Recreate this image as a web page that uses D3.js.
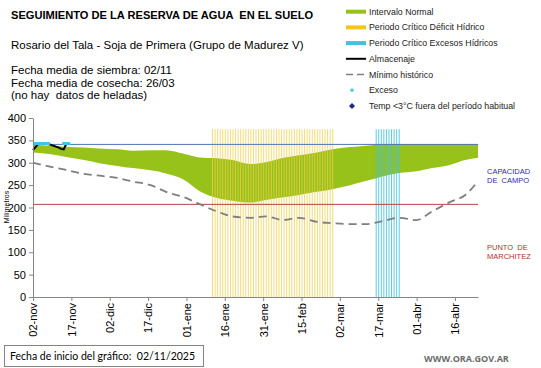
<!DOCTYPE html>
<html>
<head>
<meta charset="utf-8">
<script src="https://cdn.jsdelivr.net/npm/d3@7"></script>
<style>
  body { margin: 0; background: #fff; }
  svg { display: block; font-family: "Liberation Sans", Arial, sans-serif; }
</style>
</head>
<body>
<svg id="chart" width="541" height="368"></svg>
<script>
// fechas de la banda normal y del minimo historico
var fechas = ["2025-11-02","2025-11-09","2025-11-15","2025-11-22","2025-11-28","2025-12-05","2025-12-11",
  "2025-12-18","2025-12-24","2025-12-31","2026-01-06","2026-01-13","2026-01-19","2026-01-26","2026-02-01",
  "2026-02-08","2026-02-14","2026-02-21","2026-02-27","2026-03-06","2026-03-12","2026-03-19","2026-03-25",
  "2026-04-01","2026-04-07","2026-04-14","2026-04-20","2026-04-25"];
var bandaSup = [340,338,336,334,332,330,327,328,328,320,312,310,306,297,301,311,317,323,330,335,338,341,342,342,342,342,342,342];
var bandaInf = [323,319,313,306,299,293,288,283,276,262,237,221,215,211,217,223,228,235,241,250,259,270,277,281,288,295,306,311];
var minimoHist = [300,291,284,275,271,266,258,250,235,223,208,191,180,177,180,172,177,168,165,163,163,170,177,172,191,212,228,259];

// almacenaje diario
var almFechas = ["2025-11-02","2025-11-03","2025-11-04","2025-11-05","2025-11-06","2025-11-07","2025-11-08",
  "2025-11-09","2025-11-10","2025-11-11","2025-11-12","2025-11-13","2025-11-14","2025-11-15","2025-11-16"];
var almacenaje = [328,335,342,342,342,342,342,340,338,336,334,331,330,342,342];
var excesoFechas = ["2025-11-03","2025-11-04","2025-11-05","2025-11-06","2025-11-07","2025-11-08","2025-11-14","2025-11-15","2025-11-16"];
var excesoValores = [343,343,343,343,343,343,343,343,343];

// periodos criticos [inicio, fin]
var periodoDeficit = ["2026-01-11", "2026-02-27"];
var periodoExcesos = ["2026-03-16", "2026-03-25"];
var topePeriodos = 375;

var capacidadCampo = 341;
var puntoMarchitez = 207;

var ticksX = ["2025-11-02","2025-11-17","2025-12-02","2025-12-17","2026-01-01","2026-01-16","2026-01-31",
  "2026-02-15","2026-03-02","2026-03-17","2026-04-01","2026-04-16"];
var meses = ["ene","feb","mar","abr","may","jun","jul","ago","sep","oct","nov","dic"];
var ticksY = [0,50,100,150,200,250,300,350,400];

var parse = d3.timeParse("%Y-%m-%d");

var svg = d3.select("#chart");

var x = d3.scaleTime()
  .domain([parse("2025-11-02"), parse("2026-04-25")])
  .range([33, 478]);
var y = d3.scaleLinear()
  .domain([0, 400])
  .range([297, 118]);

// banda normal
var banda = fechas.map(function(f, i) { return {d: parse(f), s: bandaSup[i], i: bandaInf[i]}; });
svg.append("path")
  .datum(banda)
  .attr("fill", "#97c21a")
  .attr("d", d3.area()
    .x(function(d) { return x(d.d); })
    .y0(function(d) { return y(d.i); })
    .y1(function(d) { return y(d.s); })
    .curve(d3.curveMonotoneX));

// periodos criticos: una linea por dia
var diasDef = d3.timeDay.range(parse(periodoDeficit[0]), d3.timeDay.offset(parse(periodoDeficit[1]), 1));
svg.selectAll(".def")
  .data(diasDef)
  .enter()
  .append("line")
  .attr("x1", function(d) { return x(d) + 0.5; })
  .attr("x2", function(d) { return x(d) + 0.5; })
  .attr("y1", y(topePeriodos))
  .attr("y2", y(0))
  .attr("stroke", "#f0cf4a")
  .attr("stroke-opacity", 0.75)
  .attr("stroke-width", 1);

var diasExc = d3.timeDay.range(parse(periodoExcesos[0]), d3.timeDay.offset(parse(periodoExcesos[1]), 1));
svg.selectAll(".exc")
  .data(diasExc)
  .enter()
  .append("line")
  .attr("x1", function(d) { return x(d) + 0.5; })
  .attr("x2", function(d) { return x(d) + 0.5; })
  .attr("y1", y(topePeriodos))
  .attr("y2", y(0))
  .attr("stroke", "#3fc3e0")
  .attr("stroke-opacity", 0.85)
  .attr("stroke-width", 1);

// capacidad de campo y punto de marchitez
svg.append("line")
  .attr("x1", 33).attr("x2", 478)
  .attr("y1", y(capacidadCampo)).attr("y2", y(capacidadCampo))
  .attr("stroke", "#4f74b0").attr("stroke-width", 1);
svg.append("line")
  .attr("x1", 33).attr("x2", 478)
  .attr("y1", y(puntoMarchitez)).attr("y2", y(puntoMarchitez))
  .attr("stroke", "#b5453f").attr("stroke-width", 1);

// minimo historico
svg.append("path")
  .datum(fechas.map(function(f, i) { return {d: parse(f), v: minimoHist[i]}; }))
  .attr("fill", "none")
  .attr("stroke", "#7f7f7f")
  .attr("stroke-width", 1.8)
  .attr("stroke-dasharray", "8,5")
  .attr("d", d3.line()
    .x(function(d) { return x(d.d); })
    .y(function(d) { return y(d.v); })
    .curve(d3.curveMonotoneX));

// almacenaje
svg.append("path")
  .datum(almFechas.map(function(f, i) { return {d: parse(f), v: almacenaje[i]}; }))
  .attr("fill", "none")
  .attr("stroke", "#000")
  .attr("stroke-width", 2)
  .attr("d", d3.line()
    .x(function(d) { return x(d.d); })
    .y(function(d) { return y(d.v); }));

// excesos
svg.selectAll(".pto")
  .data(excesoFechas)
  .enter()
  .append("rect")
  .attr("x", function(d) { return x(parse(d)) - 1.5; })
  .attr("y", function(d, i) { return y(excesoValores[i]) - 1.5; })
  .attr("width", 3)
  .attr("height", 3)
  .attr("fill", "#3cc8ec");

// ejes
var ejeY = svg.append("g")
  .attr("transform", "translate(33,0)")
  .call(d3.axisLeft(y).tickValues(ticksY).tickSize(4).tickSizeOuter(0));
ejeY.selectAll("text").attr("font-size", 11).attr("fill", "#000").attr("font-family", "Liberation Sans, Arial");
ejeY.selectAll("line, path").attr("stroke", "#868686");

var ejeX = svg.append("g")
  .attr("transform", "translate(0,297)")
  .call(d3.axisBottom(x)
    .tickValues(ticksX.map(parse))
    .tickSize(4)
    .tickSizeOuter(0)
    .tickFormat(function(d) { return d3.timeFormat("%d")(d) + "-" + meses[d.getMonth()]; }));
ejeX.selectAll("line, path").attr("stroke", "#868686");
ejeX.selectAll("text")
  .attr("font-size", 11)
  .attr("fill", "#000")
  .attr("font-family", "Liberation Sans, Arial")
  .attr("transform", "rotate(-90)")
  .attr("text-anchor", "end")
  .attr("x", -6)
  .attr("y", 0)
  .attr("dy", "0.35em");

svg.append("text")
  .attr("transform", "translate(9,207) rotate(-90)")
  .attr("text-anchor", "middle")
  .attr("font-size", 7)
  .text("Milímetros");

// titulos
svg.append("text").attr("x", 11).attr("y", 18.5).attr("font-size", 11.1).attr("font-weight", "bold")
  .style("white-space", "pre")
  .text("SEGUIMIENTO DE LA RESERVA DE AGUA  EN EL SUELO");
svg.append("text").attr("x", 11).attr("y", 49).attr("font-size", 11.5)
  .text("Rosario del Tala - Soja de Primera (Grupo de Madurez V)");
var info = ["Fecha media de siembra: 02/11", "Fecha media de cosecha: 26/03", "(no hay  datos de heladas)"];
svg.selectAll(".info")
  .data(info)
  .enter()
  .append("text")
  .attr("x", 11)
  .attr("y", function(d, i) { return 74 + i * 12.5; })
  .attr("font-size", 11.5)
  .style("white-space", "pre")
  .text(function(d) { return d; });

// leyenda
var leyenda = ["Intervalo Normal", "Periodo Crítico Déficit Hídrico", "Periodo Crítico Excesos Hídricos",
  "Almacenaje", "Mínimo histórico", "Exceso", "Temp <3°C fuera del período habitual"];
var ley = svg.append("g").attr("transform", "translate(346,0)");
leyenda.forEach(function(t, i) {
  var yy = 11.7 + i * 15.7;
  if (i < 3) {
    ley.append("rect").attr("x", 0).attr("y", yy - 2).attr("width", 20).attr("height", 4)
      .attr("fill", ["#97c21a", "#f5c518", "#3fc3e0"][i]);
  } else if (i === 3) {
    ley.append("line").attr("x1", 0).attr("x2", 20).attr("y1", yy).attr("y2", yy)
      .attr("stroke", "#000").attr("stroke-width", 2);
  } else if (i === 4) {
    ley.append("line").attr("x1", 0).attr("x2", 20).attr("y1", yy).attr("y2", yy)
      .attr("stroke", "#7f7f7f").attr("stroke-width", 1.5).attr("stroke-dasharray", "7,4");
  } else if (i === 5) {
    ley.append("rect").attr("x", 4.5).attr("y", yy - 1.5).attr("width", 3).attr("height", 3).attr("fill", "#3cc8ec");
  } else {
    ley.append("path").attr("d", "M6," + (yy - 3) + "L9," + yy + "L6," + (yy + 3) + "L3," + yy + "Z")
      .attr("fill", "#1a2a8c");
  }
  ley.append("text").attr("x", 23).attr("y", yy).attr("dy", "0.35em")
    .attr("font-size", 8.8).attr("fill", "#222").text(t);
});

// rotulos a la derecha
svg.selectAll(".cc")
  .data(["CAPACIDAD", "DE  CAMPO"])
  .enter().append("text")
  .attr("x", 487).attr("y", function(d, i) { return 174 + i * 9; })
  .attr("font-size", 7.5).attr("fill", "#2e2e9e").style("white-space", "pre")
  .text(function(d) { return d; });
svg.selectAll(".pm")
  .data(["PUNTO  DE", "MARCHITEZ"])
  .enter().append("text")
  .attr("x", 487).attr("y", function(d, i) { return 250 + i * 9; })
  .attr("font-size", 7.5).attr("fill", "#b0302a").style("white-space", "pre")
  .text(function(d) { return d; });

// pie
svg.append("rect").attr("x", 4.5).attr("y", 345.5).attr("width", 199).attr("height", 21)
  .attr("fill", "#fff").attr("stroke", "#8c7f80").attr("stroke-width", 1);
svg.append("text").attr("x", 10).attr("y", 360).attr("font-size", 10.5)
  .attr("font-family", "Lato, sans-serif").style("white-space", "pre")
  .text("Fecha de inicio del gráfico:  02/11/2025");
svg.append("text").attr("x", 424).attr("y", 362).attr("font-size", 9).attr("font-weight", "bold")
  .attr("fill", "#6b6b6b").attr("font-family", "Open Sans, sans-serif")
  .text("WWW.ORA.GOV.AR");
</script>
</body>
</html>
